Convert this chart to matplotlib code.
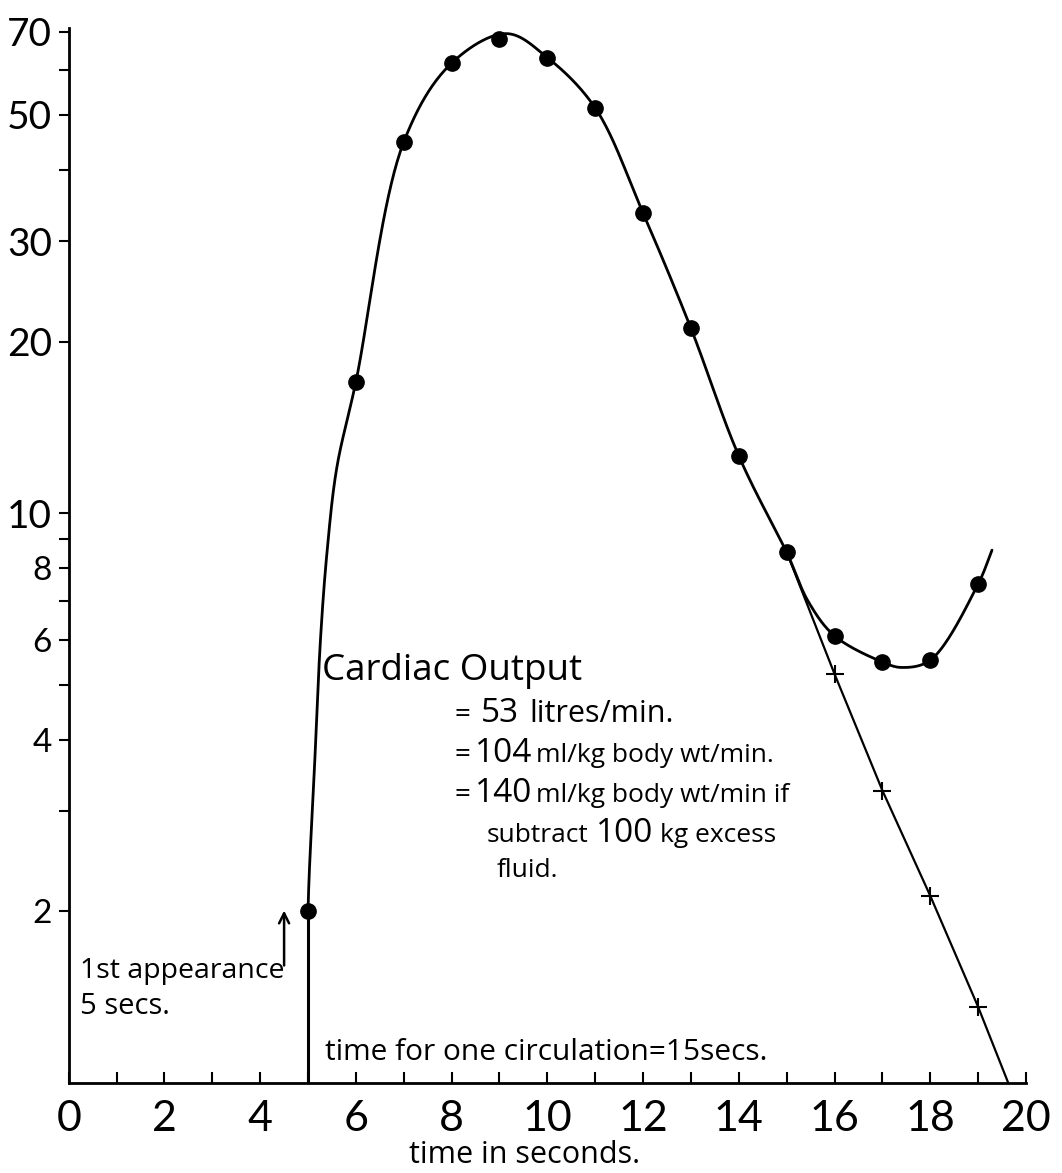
import numpy as np
import matplotlib
matplotlib.use("Agg")
import matplotlib.pyplot as plt
from matplotlib.ticker import FixedLocator, NullFormatter, FixedFormatter

plt.rcParams['font.family'] = ['Lato', 'DejaVu Sans']
ANN = ['Open Sans', 'DejaVu Sans']

# ---------------- data ----------------
# measured dye concentration (filled dots)
dot_t = [5, 6, 7, 8, 9, 10, 11, 12, 13, 14, 15, 16, 17, 18, 19]
dot_v = [2.0, 17.0, 44.8, 61.6, 67.9, 62.9, 51.4, 33.6, 21.1, 12.6, 8.54, 6.09, 5.48, 5.52, 7.51]

# extrapolated (mono-exponential) points, crosses
cross_t = [16, 17, 18, 19]
cross_v = [5.22, 3.26, 2.13, 1.36]

# hand-drawn smooth curve (knots);
# the first knot only sets the starting direction (vertical stroke)
curve_t = [5.0, 5.0, 5.13, 5.26, 5.4, 5.6, 6.0, 7.0, 8.0, 9.15, 10.0,
           11.0, 12.0, 13.0, 14.0, 15.0]
curve_v = [1.0, 2.0, 3.5, 6.0, 8.6, 12.0, 17.0, 44.8, 61.6, 69.4, 63.0,
           51.4, 33.6, 21.1, 12.6, 8.54]

# recirculation branch of the drawn curve (first knot only sets the direction)
recirc_t = [14.0, 15.0, 15.45, 16.0, 17.0, 17.4, 18.0, 19.0, 19.29]
recirc_v = [12.6, 8.54, 7.0, 6.09, 5.48, 5.36, 5.52, 7.51, 8.61]

# straight extrapolation line
extrap_t = [15.0, 16, 17, 18, 19, 19.63]
extrap_v = [8.54, 5.22, 3.26, 2.13, 1.36, 1.0]

# vertical stroke at first appearance
appear_t = [5.0, 5.0]
appear_v = [1.0, 2.0]

xticks_major = [0, 2, 4, 6, 8, 10, 12, 14, 16, 18, 20]
xticks_minor = [1, 3, 5, 7, 9, 11, 13, 15, 17, 19]
yticks_major = [2, 4, 6, 8, 10, 20, 30, 50, 70]
yticks_minor = [3, 5, 7, 9, 40, 60]

# ---------------- helpers ----------------
SX, SY = 47.86, 571.0   # screen-like scaling for smoothing


def smooth(ts, vs, lead=False, n=40):
    """centripetal Catmull-Rom through the knots; if lead, the first knot
    only sets the starting direction"""
    P = np.column_stack([np.asarray(ts, float) * SX, np.log10(vs) * SY])
    if lead:
        P = np.vstack([P, 2 * P[-1] - P[-2]])
    else:
        P = np.vstack([2 * P[0] - P[1], P, 2 * P[-1] - P[-2]])
    out = []
    for i in range(1, len(P) - 2):
        p0, p1, p2, p3 = P[i - 1], P[i], P[i + 1], P[i + 2]

        def tj(ti, a, b):
            return ti + max(np.linalg.norm(b - a), 1e-6) ** 0.5
        t0 = 0.0
        t1 = tj(t0, p0, p1)
        t2 = tj(t1, p1, p2)
        t3 = tj(t2, p2, p3)
        tt = np.linspace(t1, t2, n)[:, None]
        A1 = (t1 - tt) / (t1 - t0) * p0 + (tt - t0) / (t1 - t0) * p1
        A2 = (t2 - tt) / (t2 - t1) * p1 + (tt - t1) / (t2 - t1) * p2
        A3 = (t3 - tt) / (t3 - t2) * p2 + (tt - t2) / (t3 - t2) * p3
        B1 = (t2 - tt) / (t2 - t0) * A1 + (tt - t0) / (t2 - t0) * A2
        B2 = (t3 - tt) / (t3 - t1) * A2 + (tt - t1) / (t3 - t1) * A3
        C = (t2 - tt) / (t2 - t1) * B1 + (tt - t1) / (t2 - t1) * B2
        out.append(C if not out else C[1:])
    C = np.vstack(out)
    return C[:, 0] / SX, 10 ** (C[:, 1] / SY)


# ---------------- figure ----------------
W, H = 1062, 1173
fig = plt.figure(figsize=(W / 100, H / 100), dpi=100)
ax = fig.add_axes([68.7 / W, (H - 1083) / H, (1026 - 68.7) / W, (1083 - 28) / H])
ax.set_yscale('log')
ax.set_xlim(0, 20)
ax.set_ylim(1.0, 71)

for s in ['top', 'right']:
    ax.spines[s].set_visible(False)
for s in ['left', 'bottom']:
    ax.spines[s].set_linewidth(2)
    ax.spines[s].set_color('black')

ax.xaxis.set_major_locator(FixedLocator(xticks_major))
ax.xaxis.set_minor_locator(FixedLocator(xticks_minor))
ax.set_xticklabels([str(v) for v in xticks_major])
ax.yaxis.set_major_locator(FixedLocator(yticks_major))
ax.yaxis.set_major_formatter(FixedFormatter([str(v) for v in yticks_major]))
ax.yaxis.set_minor_locator(FixedLocator(yticks_minor))
ax.yaxis.set_minor_formatter(NullFormatter())

ax.tick_params(axis='x', which='both', direction='in', length=8, width=1.5,
               labelsize=31, pad=12)
ax.tick_params(axis='y', which='both', direction='out', length=7, width=1.5,
               labelsize=28, pad=5)
for lbl, v in zip(ax.get_yticklabels(), yticks_major):
    if v < 10:
        lbl.set_fontsize(24)

# lines
cx, cy = smooth(curve_t, curve_v, lead=True)
ax.plot(cx, cy, color='black', lw=2.0, solid_capstyle='round')
rx, ry = smooth(recirc_t, recirc_v, lead=True)
ax.plot(rx, ry, color='black', lw=2.0, solid_capstyle='round')
ax.plot(extrap_t, extrap_v, color='black', lw=1.6)
ax.plot(appear_t, appear_v, color='black', lw=2.2)

# markers
ax.plot(dot_t, dot_v, 'o', color='black', ms=11, zorder=5)
ax.plot(cross_t, cross_v, '+', color='black', ms=13, mew=1.5, zorder=5)

# arrow for first appearance
ax.annotate('', xy=(4.5, 2.03), xytext=(4.5, 1.59),
            arrowprops=dict(arrowstyle='->', lw=1.8, color='black',
                            mutation_scale=18))

renderer = fig.canvas.get_renderer()


def ftext(px, py, s, size, ha='left'):
    return fig.text(px / W, 1 - py / H, s, fontsize=size, va='baseline',
                    ha=ha, family=ANN)


def fline(px, py, parts, gap=6):
    """write pieces of different sizes one after another on a baseline"""
    x = px
    for s, size in parts:
        t = ftext(x, py, s, size)
        bb = t.get_window_extent(renderer)
        x = bb.x1 + gap


ftext(322, 680, 'Cardiac Output', 26.5)
fline(455, 722, [('=', 20), ('53', 24), ('litres/min.', 22)], gap=10)
fline(455, 762, [('=', 20), ('104', 24), ('ml/kg body wt/min.', 19)], gap=4)
fline(455, 802, [('=', 20), ('140', 24), ('ml/kg body wt/min if', 19)], gap=4)
fline(487, 842, [('subtract', 19), ('100', 24), ('kg excess', 19)], gap=7)
ftext(497, 877, 'fluid.', 19)

ftext(80, 978, '1st appearance', 20.5)
ftext(80, 1014, '5 secs.', 21)
ftext(325, 1060, 'time for one circulation=15secs.', 21.5)
ftext(525, 1163, 'time in seconds.', 22, ha='center')

fig.savefig('out.png', dpi=100)
